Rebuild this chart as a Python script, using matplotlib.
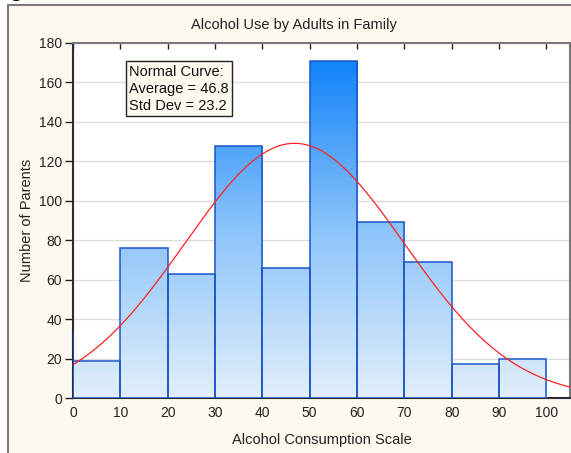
import numpy as np
import matplotlib
matplotlib.use("Agg")
import matplotlib.pyplot as plt
from matplotlib.colors import LinearSegmentedColormap
from matplotlib.patches import Rectangle

plt.rcParams["font.family"] = ["Liberation Sans", "DejaVu Sans"]

# ── Data ─────────────────────────────────────────────────────────────────────
bin_left = [-10, 0, 10, 20, 30, 40, 50, 60, 70, 80, 90]
counts = [33, 19, 76, 63, 128, 66, 171, 89, 69, 17, 20]
bin_width = 10
curve_mean = 46.8
curve_sd = 23.2
x_ticks = list(range(0, 101, 10))
y_ticks = list(range(0, 181, 20))

CREAM = "#fef9ee"
EDGE = "#1a55c8"
grad_cmap = LinearSegmentedColormap.from_list("bluegrad", ["#e2effc", "#8cc4fa", "#1283fa"])

fig = plt.figure(figsize=(5.71, 4.53), dpi=100)
fig.patch.set_facecolor("white")
panel = Rectangle((8 / 571, -0.01), 1.0, 448 / 453 + 0.01, transform=fig.transFigure,
                  facecolor=CREAM, edgecolor="#7a7a7a", linewidth=1.5, zorder=-10)
fig.add_artist(panel)
fig.text(9 / 571, 1 + 3 / 453, "g", fontsize=15, fontweight="bold", va="baseline", ha="left")

ax = fig.add_axes([73 / 571, 55 / 453, 497 / 571, 355 / 453])
ax.set_facecolor("white")
XMIN, XMAX, YMIN, YMAX = 0, 105, 0, 180

# bar outlines, then a gradient (by absolute height) clipped to each bar
bars = ax.bar(bin_left, counts, width=bin_width, align="edge", facecolor="none",
              edgecolor=EDGE, linewidth=1.1, zorder=4)
grad = np.linspace(0, YMAX, 256).reshape(-1, 1)
for b in bars:
    im = ax.imshow(grad, extent=[XMIN, XMAX, YMIN, YMAX], origin="lower", aspect="auto",
                   cmap=grad_cmap, vmin=0, vmax=max(counts), zorder=3, interpolation="bilinear")
    im.set_clip_path(b)

# normal curve scaled to the histogram
n_total = sum(counts)
xs = np.linspace(XMIN, XMAX, 400)
ys = n_total * bin_width / (curve_sd * np.sqrt(2 * np.pi)) * np.exp(-0.5 * ((xs - curve_mean) / curve_sd) ** 2)
ax.plot(xs, ys, color="#ff2020", linewidth=0.9, zorder=5)

ax.set_xlim(XMIN, XMAX)
ax.set_ylim(YMIN, YMAX)
ax.set_xticks(x_ticks)
ax.set_yticks(y_ticks)
ax.yaxis.grid(True, color="#dcdcdc", linewidth=1.0, zorder=0)
ax.set_axisbelow(True)

ax.tick_params(axis="x", bottom=False, top=True, direction="in", length=4, width=1,
               labelsize=10, pad=6, colors="#222222")
ax.tick_params(axis="y", left=True, right=True, direction="out", length=6, width=1,
               labelsize=10, pad=2, colors="#222222")
for sp in ("left", "bottom"):
    ax.spines[sp].set_color("#2a2a3a")
    ax.spines[sp].set_linewidth(1.5)
for sp in ("top", "right"):
    ax.spines[sp].set_color("#7a7a7a")
    ax.spines[sp].set_linewidth(1.5)

ax.set_xlabel("Alcohol Consumption Scale", fontsize=10.5, color="#222222", labelpad=9)
ax.set_ylabel("Number of Parents", fontsize=10.5, color="#222222", labelpad=3)
fig.text(293.5 / 571, 1 - 25.5 / 453, "Alcohol Use by Adults in Family", fontsize=10.5,
         ha="center", va="center", color="#222222")

ax.text(0.113, 0.938, "Normal Curve:\nAverage = 46.8\nStd Dev = 23.2", transform=ax.transAxes,
        fontsize=10.5, ha="left", va="top", linespacing=1.25, color="#111111", zorder=6,
        bbox=dict(boxstyle="square,pad=0.25", facecolor=CREAM, edgecolor="#222222", linewidth=1))

fig.savefig("out.png", dpi=100)
